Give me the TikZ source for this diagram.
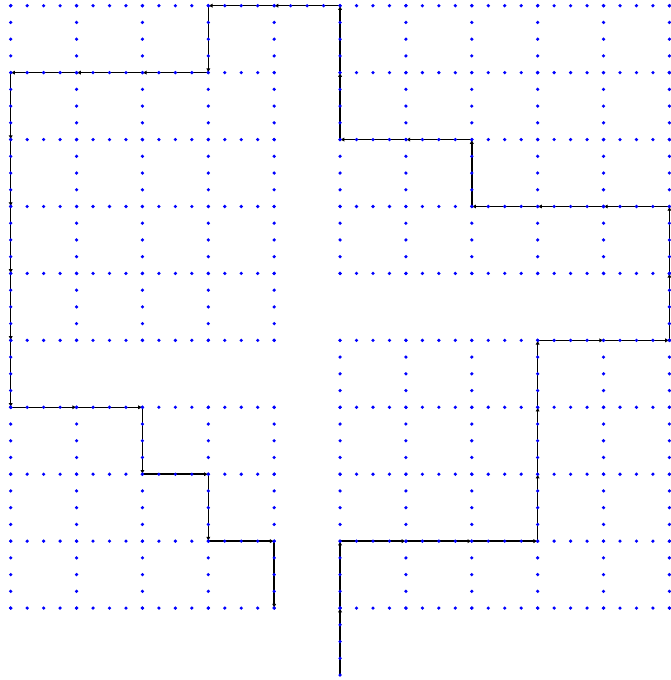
\documentclass[tikz,border=0pt]{standalone}
\usetikzlibrary{arrows.meta}
\tikzset{
  seg/.style={draw=black, line width=1.5pt, -{Latex[length=4.2pt,width=4.2pt]}},
  gdot/.style={fill=blue, draw=none},
}
\newcommand{\gdotat}[2]{\fill[gdot] (#1,#2) circle[radius=1.8pt];}
\begin{document}
\begin{tikzpicture}[x=65.87pt, y=-66.93pt, shift={(10.7pt,-5.7pt)}]
  \useasboundingbox (-0.16244,-0.08516) rectangle (10.00911,10.07470);
  % path made of unit steps, each ending in a tip
  \foreach \ax/\ay/\bx/\by in {5/10/5/8, 5/8/8/8, 8/8/8/5, 8/5/10/5, 10/5/10/3,
      10/3/7/3, 7/3/7/2, 7/2/5/2, 5/2/5/0, 5/0/3/0, 3/0/3/1, 3/1/0/1, 0/1/0/6,
      0/6/2/6, 2/6/2/7, 2/7/3/7, 3/7/3/8, 3/8/4/8, 4/8/4/9} {
    \pgfmathtruncatemacro\n{abs(\bx-\ax)+abs(\by-\ay)}
    \pgfmathsetmacro\dx{(\bx-\ax)/\n}
    \pgfmathsetmacro\dy{(\by-\ay)/\n}
    \foreach \k in {1,...,\n} {
      \draw[seg] ({\ax+(\k-1)*\dx},{\ay+(\k-1)*\dy}) -- ({\ax+\k*\dx},{\ay+\k*\dy});
    }
  }
  % grid dots: rows
  \foreach \t in {0,...,40} { \gdotat{\t/4}{0} }
  \foreach \j in {1,...,9} {
    \foreach \t in {0,...,16} { \gdotat{\t/4}{\j} }
    \foreach \t in {20,...,40} { \gdotat{\t/4}{\j} }
  }
  % grid dots: columns
  \foreach \i in {0,...,4} {
    \foreach \t in {0,...,20} { \gdotat{\i}{\t/4} }
    \foreach \t in {24,...,36} { \gdotat{\i}{\t/4} }
  }
  \foreach \i in {5,...,10} {
    \foreach \t in {0,...,16} { \gdotat{\i}{\t/4} }
    \foreach \t in {20,...,36} { \gdotat{\i}{\t/4} }
  }
  % dots on the path where it crosses the gaps
  \foreach \t in {20,...,24} { \gdotat{0}{\t/4} }
  \foreach \t in {16,...,20} { \gdotat{10}{\t/4} }
  \foreach \t in {36,...,40} { \gdotat{5}{\t/4} }
\end{tikzpicture}
\end{document}
